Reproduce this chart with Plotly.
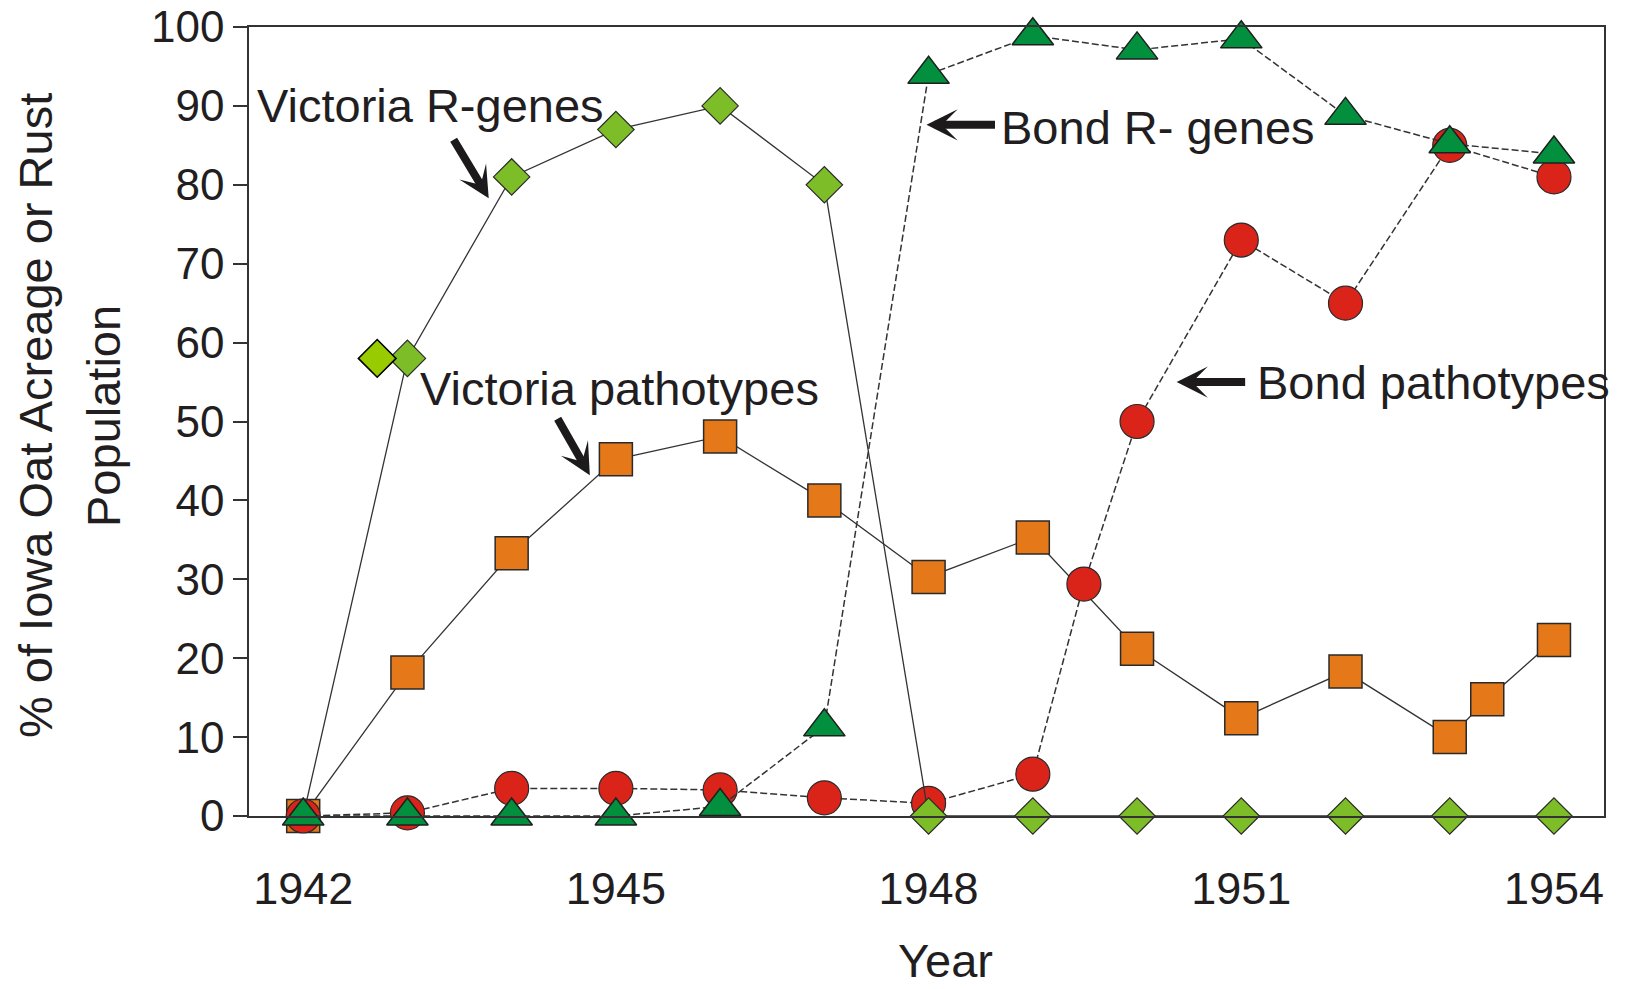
import plotly.graph_objects as go

# ---- data ----
years = [1942, 1943, 1944, 1945, 1946, 1947, 1948, 1949, 1950, 1951, 1952, 1953, 1954]

victoria_r_genes = [0, 58, 81, 87, 90, 80, 0, 0, 0, 0, 0, 0, 0]
extra_diamond_x = [1942.71]
extra_diamond_y = [58]

vic_path_x = [1942, 1943, 1944, 1945, 1946, 1947, 1948, 1949, 1950, 1951, 1952, 1953, 1953.36, 1954]
vic_path_y = [0, 18.2, 33.3, 45.2, 48.1, 40.0, 30.3, 35.3, 21.2, 12.4, 18.3, 10.0, 14.8, 22.3]

bond_path_x = [1942, 1943, 1944, 1945, 1946, 1947, 1948, 1949, 1949.49, 1950, 1951, 1952, 1953, 1954]
bond_path_y = [0, 0.4, 3.5, 3.5, 3.3, 2.3, 1.6, 5.3, 29.4, 50.0, 73.0, 65.0, 85.0, 81.0]

bond_r_genes = [0, 0, 0, 0, 1.2, 11.3, 94.0, 98.9, 97.1, 98.5, 88.8, 85.2, 83.9]

x_ticks = [1942, 1945, 1948, 1951, 1954]
y_ticks = [0, 10, 20, 30, 40, 50, 60, 70, 80, 90, 100]

TXT = "#221e1f"
LINE = "#333333"
FONT = "Liberation Sans, Arial, sans-serif"

W, H = 1627, 989
ML, MT, MR = 249, 27, 23
PLOT_BOTTOM = 816
MB = H - PLOT_BOTTOM
PLOT_W = W - ML - MR
PLOT_H = PLOT_BOTTOM - MT


def px_x(px):
    return (px - ML) / PLOT_W


def px_y(py):
    return (PLOT_BOTTOM - py) / PLOT_H


fig = go.Figure()

# Victoria pathotypes (orange squares)
fig.add_trace(go.Scatter(
    x=vic_path_x, y=vic_path_y, mode="lines+markers", cliponaxis=False,
    line=dict(color=LINE, width=1.3),
    marker=dict(symbol="square", size=33, color="#e57818", opacity=1,
                line=dict(color="#2a2a2a", width=1.5)),
    showlegend=False))

# Bond pathotypes (red circles)
fig.add_trace(go.Scatter(
    x=bond_path_x, y=bond_path_y, mode="lines+markers", cliponaxis=False,
    line=dict(color=LINE, width=1.5, dash="7px,3px"),
    marker=dict(symbol="circle", size=34, color="#da2419", opacity=1,
                line=dict(color="#2a2a2a", width=1.2)),
    showlegend=False))

# Victoria R-genes (light green diamonds)
fig.add_trace(go.Scatter(
    x=years, y=victoria_r_genes, mode="lines+markers", cliponaxis=False,
    line=dict(color=LINE, width=1.3),
    marker=dict(symbol="diamond", size=[0] + [28] * (len(years) - 1), color="#7dbd27",
                opacity=1, line=dict(color="#2a2a2a", width=1.2)),
    showlegend=False))

fig.add_trace(go.Scatter(
    x=extra_diamond_x, y=extra_diamond_y, mode="markers", cliponaxis=False,
    marker=dict(symbol="diamond", size=29, color="#99cc00", opacity=1,
                line=dict(color="#000000", width=1.6)),
    showlegend=False))

# Bond R-genes (dark green triangles)
fig.add_trace(go.Scatter(
    x=years, y=bond_r_genes, mode="lines+markers", cliponaxis=False,
    line=dict(color=LINE, width=1.5, dash="7px,3px"),
    marker=dict(symbol="triangle-up", size=36, color="#03903e", opacity=1,
                line=dict(color="#1f1f1f", width=1.5)),
    showlegend=False))

ann_font = dict(family=FONT, size=47, color=TXT)

labels = [
    ("Victoria R-genes", 1941.54, 90.0),
    ("Victoria pathotypes", 1943.10, 54.2),
    ("Bond R- genes", 1948.68, 87.3),
    ("Bond pathotypes", 1951.13, 54.9),
]
for text, lx, ly in labels:
    fig.add_annotation(x=lx, y=ly, xref="x", yref="y", text=text, showarrow=False,
                       xanchor="left", yanchor="middle", font=ann_font)

arrows = [
    (1943.78, 78.3, -36, -60),
    (1944.75, 43.2, -33, -58),
    (1947.98, 87.6, 70, 0),
    (1950.38, 55.0, 70, 0),
]
for hx, hy, ax, ay in arrows:
    fig.add_annotation(x=hx, y=hy, xref="x", yref="y", text="", showarrow=True,
                       ax=ax, ay=ay, arrowhead=3, arrowwidth=8, arrowsize=0.65,
                       arrowcolor="#1c1a1a", standoff=0)

# axis titles as annotations
fig.add_annotation(x=px_x(945), y=px_y(H), xref="paper", yref="paper", text="Year",
                   showarrow=False, xanchor="center", yanchor="bottom", font=ann_font)
fig.add_annotation(x=px_x(36), y=px_y(416), xref="paper", yref="paper",
                   text="% of Iowa Oat Acreage or Rust", textangle=-90,
                   showarrow=False, xanchor="center", yanchor="middle", font=ann_font)
fig.add_annotation(x=px_x(104), y=px_y(416), xref="paper", yref="paper",
                   text="Population", textangle=-90,
                   showarrow=False, xanchor="center", yanchor="middle", font=ann_font)

fig.update_layout(
    width=W, height=H,
    margin=dict(l=ML, r=MR, t=MT, b=MB, autoexpand=False),
    paper_bgcolor="white", plot_bgcolor="white",
    font=dict(family=FONT, color=TXT),
    xaxis=dict(range=[1941.48, 1954.48], tickmode="array", tickvals=x_ticks,
               ticktext=[str(v) for v in x_ticks], automargin=False,
               showgrid=False, zeroline=False, showline=True, mirror=True,
               linecolor=LINE, linewidth=1.5,
               ticks="outside", ticklen=32, tickcolor="rgba(0,0,0,0)",
               tickfont=dict(family=FONT, size=45, color=TXT)),
    yaxis=dict(range=[0, 100], tickmode="array", tickvals=y_ticks, automargin=False,
               ticklabeloverflow="allow",
               showgrid=False, zeroline=False, showline=True, mirror=True,
               linecolor=LINE, linewidth=1.5,
               ticks="outside", ticklen=14, tickwidth=1.5, tickcolor=LINE,
               tickfont=dict(family=FONT, size=44, color=TXT)),
)

fig.write_html("out.html",
               config={"displayModeBar": False},
               post_script="document.body.style.margin='0';document.body.style.overflow='hidden';")
